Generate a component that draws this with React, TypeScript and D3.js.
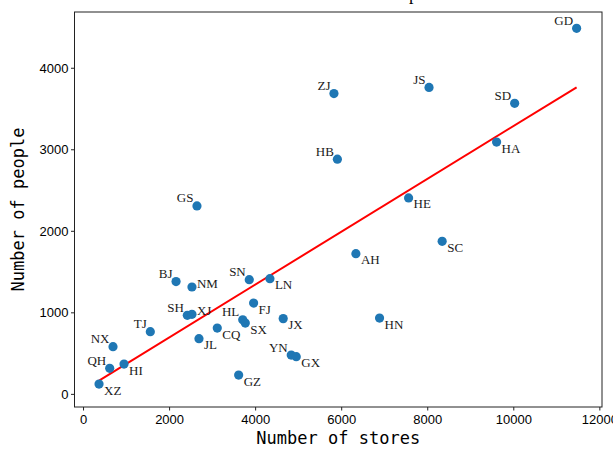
import React from 'react';
import * as d3 from 'd3';

// province codes, number of stores, number of people
const provinces = ['GD', 'ZJ', 'JS', 'SD', 'HA', 'HB', 'HE', 'SC', 'AH', 'GS', 'BJ', 'NM', 'SN', 'LN', 'FJ', 'SH', 'XJ', 'HL', 'SX', 'JX', 'CQ', 'TJ', 'JL', 'NX', 'YN', 'GX', 'QH', 'HI', 'XZ', 'GZ', 'HN'];
const stores = [11460, 5820, 8030, 10020, 9600, 5900, 7555, 8335, 6330, 2636, 2150, 2520, 3852, 4332, 3953, 2412, 2520, 3700, 3760, 4641, 3108, 1552, 2683, 685, 4827, 4944, 608, 941, 360, 3605, 6880];
const people = [4490, 3690, 3765, 3570, 3095, 2885, 2410, 1877, 1726, 2311, 1383, 1317, 1407, 1419, 1120, 969, 982, 915, 875, 929, 813, 769, 683, 585, 482, 462, 319, 372, 126, 237, 936];
// where each label sits: ul = up-left, lr = down-right, r = right
const labelSide = ['ul', 'ul', 'ul', 'ul', 'lr', 'ul', 'lr', 'lr', 'lr', 'ul', 'ul', 'r', 'ul', 'lr', 'lr', 'ul', 'r', 'ul', 'lr', 'lr', 'lr', 'ul', 'lr', 'ul', 'ul', 'lr', 'ul', 'lr', 'lr', 'lr', 'lr'];
const xTicks = [0, 2000, 4000, 6000, 8000, 10000, 12000];
const yTicks = [0, 1000, 2000, 3000, 4000];

const W = 613;
const H = 450;
const margin = { top: 12, right: 11, bottom: 43, left: 74.5 };

export default function App() {
  const x = d3.scaleLinear().domain([-210, 12050]).range([margin.left, W - margin.right]);
  const y = d3.scaleLinear().domain([-155, 4690]).range([H - margin.bottom, margin.top]);

  // least squares fit
  const mx = d3.mean(stores) as number;
  const my = d3.mean(people) as number;
  const sxy = d3.sum(stores, (v, i) => (v - mx) * (people[i] - my));
  const sxx = d3.sum(stores, (v) => (v - mx) * (v - mx));
  const slope = sxy / sxx;
  const icpt = my - slope * mx;
  const [x0, x1] = d3.extent(stores) as [number, number];
  const line = d3.line<number>().x((v) => x(v)).y((v) => y(icpt + slope * v));

  const x0px = margin.left;
  const x1px = W - margin.right;
  const y0px = margin.top;
  const y1px = H - margin.bottom;
  const mono = '"DejaVu Sans Mono", monospace';

  return (
    <svg width={W} height={H} style={{ position: 'absolute', left: 0, top: 0, background: '#fff' }}>
      <text x={327} y={0} fontFamily="Liberation Serif" fontSize={18} fill="#000">Relationship</text>
      <path d={line([x0, x1]) ?? ''} fill="none" stroke="#ff0000" strokeWidth={2} />
      {provinces.map((p, i) => (
        <circle key={p} cx={x(stores[i])} cy={y(people[i])} r={4.6} fill="#1f77b4" />
      ))}
      {provinces.map((p, i) => {
        const s = labelSide[i];
        const dx = s === 'ul' ? -3.5 : 5;
        const dy = s === 'ul' ? -3.5 : s === 'lr' ? 10.5 : 1;
        return (
          <text key={p} x={x(stores[i]) + dx} y={y(people[i]) + dy} textAnchor={s === 'ul' ? 'end' : 'start'}
            fontFamily="Liberation Serif" fontSize={13} fill="#1a1a1a">{p}</text>
        );
      })}
      <rect x={x0px} y={y0px} width={x1px - x0px} height={y1px - y0px} fill="none" stroke="#222" strokeWidth={1} />
      {xTicks.map((t) => (
        <g key={t} transform={`translate(${x(t)},${y1px})`}>
          <line y2={3.5} stroke="#222" />
          <text y={17} textAnchor="middle" fontFamily="Liberation Sans" fontSize={13} fill="#000">{t}</text>
        </g>
      ))}
      {yTicks.map((t) => (
        <g key={t} transform={`translate(${x0px},${y(t)})`}>
          <line x2={-3.5} stroke="#222" />
          <text x={-6} dy="0.35em" textAnchor="end" fontFamily="Liberation Sans" fontSize={13} fill="#000">{t}</text>
        </g>
      ))}
      <text x={(x0px + x1px) / 2} y={444} textAnchor="middle" fontFamily={mono} fontSize={17} fill="#000">Number of stores</text>
      <text transform={`translate(24,${(y0px + y1px) / 2}) rotate(-90)`} textAnchor="middle" fontFamily={mono} fontSize={17} fill="#000">Number of people</text>
    </svg>
  );
}
